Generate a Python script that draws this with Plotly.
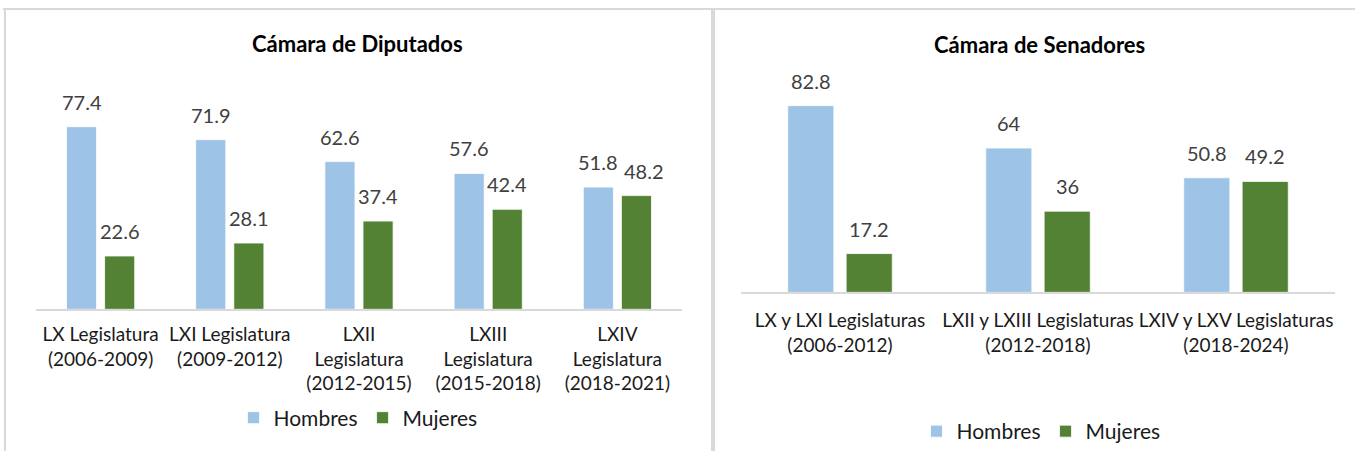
import plotly.graph_objects as go

# ---------------- data ----------------
dip_categories = [
    "LX Legislatura<br>(2006-2009)",
    "LXI Legislatura<br>(2009-2012)",
    "LXII<br>Legislatura<br>(2012-2015)",
    "LXIII<br>Legislatura<br>(2015-2018)",
    "LXIV<br>Legislatura<br>(2018-2021)",
]
dip_hombres = [77.4, 71.9, 62.6, 57.6, 51.8]
dip_mujeres = [22.6, 28.1, 37.4, 42.4, 48.2]

sen_categories = [
    "LX y LXI Legislaturas<br>(2006-2012)",
    "LXII y LXIII Legislaturas<br>(2012-2018)",
    "LXIV y LXV Legislaturas<br>(2018-2024)",
]
sen_hombres = [82.8, 64, 50.8]
sen_mujeres = [17.2, 36, 49.2]

series_names = ["Hombres", "Mujeres"]
title_dip = "Cámara de Diputados"
title_sen = "Cámara de Senadores"

# ---------------- style ----------------
W, H = 1355, 452
C_H = "#9DC3E6"
C_M = "#548235"
FONT = "Lato"
LABEL_COLOR = "#404040"
TEXT_COLOR = "#1a1a1a"
BORDER = "#d9d9d9"


def px_x(v):
    return v / W


def px_y(v):
    return (H - v) / H


fig = go.Figure()

fig.add_trace(go.Bar(x=dip_categories, y=dip_hombres, name=series_names[0],
                     marker=dict(color=C_H, line=dict(color="white", width=0.8)),
                     xaxis="x", yaxis="y", legend="legend"))
fig.add_trace(go.Bar(x=dip_categories, y=dip_mujeres, name=series_names[1],
                     marker=dict(color=C_M, line=dict(color="white", width=0.8)),
                     xaxis="x", yaxis="y", legend="legend"))
fig.add_trace(go.Bar(x=sen_categories, y=sen_hombres, name=series_names[0],
                     marker=dict(color=C_H, line=dict(color="white", width=0.8)),
                     xaxis="x2", yaxis="y2", legend="legend2"))
fig.add_trace(go.Bar(x=sen_categories, y=sen_mujeres, name=series_names[1],
                     marker=dict(color=C_M, line=dict(color="white", width=0.8)),
                     xaxis="x2", yaxis="y2", legend="legend2"))

annotations = []
# data labels (value annotations anchored to the data through the axes)
dip_shift = 19
sen_shift = 29
label_nudge_dip_m = [0, 0, 0, 0, 8]
for cat, vh, vm, nd in zip(dip_categories, dip_hombres, dip_mujeres, label_nudge_dip_m):
    annotations.append(dict(x=cat, y=vh, xref="x", yref="y", text=f"{vh:g}",
                            showarrow=False, xshift=-dip_shift, yshift=25, yanchor="middle",
                            font=dict(family=FONT, size=20, color=LABEL_COLOR)))
    annotations.append(dict(x=cat, y=vm, xref="x", yref="y", text=f"{vm:g}",
                            showarrow=False, xshift=dip_shift + nd, yshift=25, yanchor="middle",
                            font=dict(family=FONT, size=20, color=LABEL_COLOR)))
for cat, vh, vm in zip(sen_categories, sen_hombres, sen_mujeres):
    annotations.append(dict(x=cat, y=vh, xref="x2", yref="y2", text=f"{vh:g}",
                            showarrow=False, xshift=-sen_shift, yshift=25, yanchor="middle",
                            font=dict(family=FONT, size=20, color=LABEL_COLOR)))
    annotations.append(dict(x=cat, y=vm, xref="x2", yref="y2", text=f"{vm:g}",
                            showarrow=False, xshift=sen_shift, yshift=25, yanchor="middle",
                            font=dict(family=FONT, size=20, color=LABEL_COLOR)))

# titles
annotations.append(dict(x=px_x(358), y=px_y(44), xref="paper", yref="paper",
                        text=f"<b>{title_dip}</b>", showarrow=False,
                        xanchor="center", yanchor="middle",
                        font=dict(family=FONT, size=22, color="#000000")))
annotations.append(dict(x=px_x(1039), y=px_y(45), xref="paper", yref="paper",
                        text=f"<b>{title_sen}</b>", showarrow=False,
                        xanchor="center", yanchor="middle",
                        font=dict(family=FONT, size=22, color="#000000")))

shapes = [
    # top border
    dict(type="line", xref="paper", yref="paper", x0=px_x(3), x1=1, y0=px_y(9), y1=px_y(9),
         line=dict(color=BORDER, width=2)),
    # left border
    dict(type="line", xref="paper", yref="paper", x0=px_x(5), x1=px_x(5), y0=px_y(9), y1=0,
         line=dict(color=BORDER, width=2)),
    # middle divider
    dict(type="line", xref="paper", yref="paper", x0=px_x(713), x1=px_x(713), y0=px_y(9), y1=0,
         line=dict(color=BORDER, width=4)),
]

axis_common = dict(showline=True, linecolor=BORDER, linewidth=1.5, showgrid=False,
                   zeroline=False, ticks="outside",
                   tickcolor="rgba(0,0,0,0)",
                   tickfont=dict(family=FONT, size=19, color=TEXT_COLOR), fixedrange=True)
yaxis_common = dict(range=[0, 90], visible=False, showgrid=False, zeroline=False, fixedrange=True)

legend_font = dict(family=FONT, size=21, color=TEXT_COLOR)

fig.update_layout(
    width=W, height=H,
    margin=dict(l=0, r=0, t=0, b=0),
    paper_bgcolor="white", plot_bgcolor="white",
    barmode="group", bargap=0.41, bargroupgap=0.21,
    xaxis=dict(domain=[px_x(36), px_x(682)], anchor="y", ticklen=7, **axis_common),
    yaxis=dict(domain=[px_y(310), px_y(97.2)], anchor="x", **yaxis_common),
    xaxis2=dict(domain=[px_x(741), px_x(1335)], anchor="y2", ticklen=10, **axis_common),
    yaxis2=dict(domain=[px_y(293), px_y(89.6)], anchor="x2", **yaxis_common),
    legend=dict(orientation="h", x=px_x(358), y=px_y(418), xanchor="center", yanchor="middle",
                font=legend_font, bgcolor="rgba(0,0,0,0)",
                itemclick=False, itemdoubleclick=False),
    legend2=dict(orientation="h", x=px_x(1041), y=px_y(432), xanchor="center", yanchor="middle",
                 font=legend_font, bgcolor="rgba(0,0,0,0)",
                 itemclick=False, itemdoubleclick=False),
    annotations=annotations,
    shapes=shapes,
    showlegend=True,
)

fig.write_html("out.html", config={"displayModeBar": False},
               post_script="document.body.style.margin='0';")
